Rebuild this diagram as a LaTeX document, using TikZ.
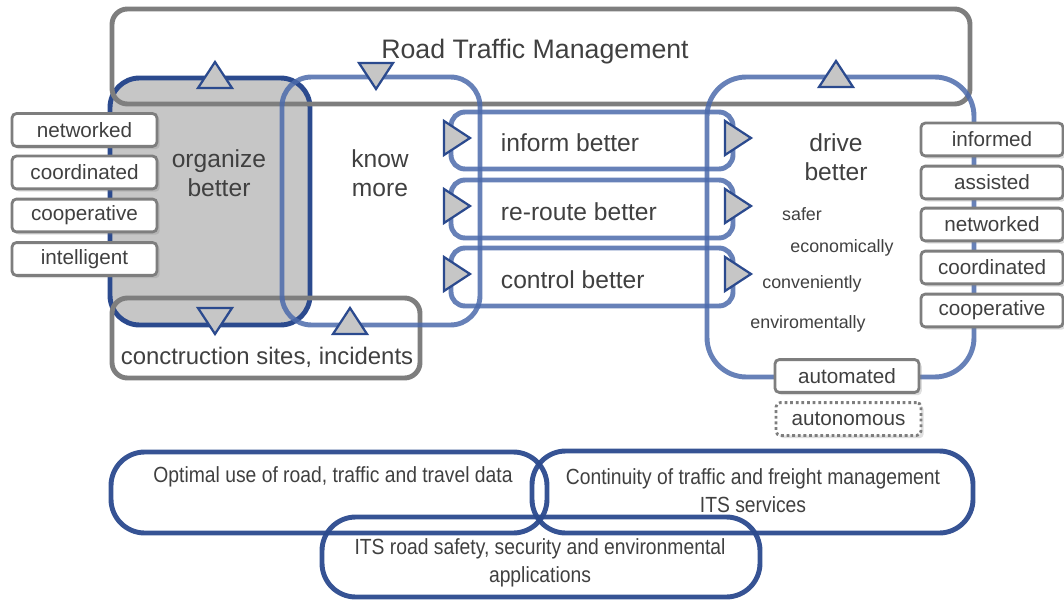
\documentclass[tikz,border=0pt]{standalone}
\usepackage{fontspec}
\setmainfont{Liberation Sans}
\newfontfamily\narrowfont[FakeStretch=0.88]{Liberation Sans}
\usetikzlibrary{shadows}
\definecolor{rtmgray}{HTML}{7E7E7E}
\definecolor{rtmfill}{HTML}{C6C6C6}
\definecolor{rtmtext}{HTML}{404040}
\definecolor{darkblue}{HTML}{2B4A8E}
\definecolor{paleblue}{HTML}{4C6BAC}

\begin{document}
\begin{tikzpicture}[x=0.025cm, y=-0.025cm, every node/.style={text=rtmtext},
    graybox/.style={draw=rtmgray, line width=3.5pt, rounded corners=11pt},
    orgbox/.style={draw=darkblue, fill=rtmfill, line width=3.5pt, rounded corners=21pt},
    loopbox/.style={draw=paleblue, draw opacity=0.85, line width=3.5pt, rounded corners=#1},
    aimbox/.style={draw=darkblue, draw opacity=0.95, line width=3.5pt, rounded corners=24pt},
    tag/.style={draw=rtmgray, fill=white, line width=2pt, rounded corners=3pt, inner sep=0pt,
      minimum height=0.82cm, drop shadow={opacity=0.25, shadow xshift=2pt, shadow yshift=-2pt},
      font=\fontsize{14.7}{16}\selectfont},
    big/.style={font=\fontsize{17.5}{21}\selectfont, align=center},
    small/.style={font=\fontsize{12.7}{15}\selectfont},
    aim/.style={font=\narrowfont\fontsize{15.6}{20}\selectfont, align=center},
    tri/.pic={\filldraw[draw=darkblue, fill=rtmfill, line width=1.6pt, line join=miter]
      (-17,13) -- (0,-13) -- (17,13) -- cycle;}]
  \useasboundingbox (0,0) rectangle (1064,603);

  \draw[orgbox] (110,78) rectangle (310,325);
  \draw[graybox] (112,9) rectangle (970,104);
  \draw[graybox] (112,298) rectangle (420,378);
  \draw[loopbox=21pt] (282,77) rectangle (480,325);
  \draw[loopbox=10pt] (451,112) rectangle (733,169);
  \draw[loopbox=10pt] (451,180) rectangle (733,238);
  \draw[loopbox=10pt] (451,248) rectangle (733,306);
  \draw[loopbox=28pt] (707,77) rectangle (974,377);

  \draw[aimbox] (111,452) rectangle (547,533);
  \draw[aimbox] (532,451) rectangle (973,533);
  \draw[aimbox] (322,517) rectangle (760,597);

  \node[tag, minimum width=3.62cm] (lnetworked) at (84.5,130) {networked};
  \node[tag, minimum width=3.62cm] (lcoordinated) at (84.5,172.5) {coordinated};
  \node[tag, minimum width=3.62cm] (lcooperative) at (84.5,215.5) {cooperative};
  \node[tag, minimum width=3.62cm] (lintelligent) at (84.5,259) {intelligent};

  \node[tag, minimum width=3.55cm] (rinformed) at (992,139.5) {informed};
  \node[tag, minimum width=3.55cm] (rassisted) at (992,182.5) {assisted};
  \node[tag, minimum width=3.55cm] (rnetworked) at (992,224.5) {networked};
  \node[tag, minimum width=3.55cm] (rcoordinated) at (992,267.5) {coordinated};
  \node[tag, minimum width=3.55cm] (rcooperative) at (992,310.5) {cooperative};

  \node[tag, minimum width=3.6cm] (automated) at (847,376) {automated};
  \node[tag, minimum width=3.62cm, dotted] (autonomous) at (848.5,419) {autonomous};

  \pic at (215,75) {tri};
  \pic[rotate=180] at (376,76) {tri};
  \pic[rotate=180] at (215,321) {tri};
  \pic at (350,321) {tri};
  \pic at (836,74) {tri};
  \pic[rotate=-90] at (457,138) {tri};
  \pic[rotate=-90] at (457,206) {tri};
  \pic[rotate=-90] at (457,274) {tri};
  \pic[rotate=-90] at (738,138) {tri};
  \pic[rotate=-90] at (738,206) {tri};
  \pic[rotate=-90] at (738,274) {tri};

  \node[font=\fontsize{19}{23}\selectfont] (rtm) at (535,52) {Road Traffic Management};
  \node[big] (organize) at (219,173) {organize\\better};
  \node[big] (know) at (380,173) {know\\more};
  \node[big, anchor=west] (inform) at (496,143) {inform better};
  \node[big, anchor=west] (reroute) at (496,212) {re-route better};
  \node[big, anchor=west] (control) at (496,280) {control better};
  \node[big] (drive) at (836,157) {drive\\better};
  \node[small] (safer) at (802,214) {safer};
  \node[small] (economically) at (842,248) {economically};
  \node[small] (conveniently) at (812,284) {conveniently};
  \node[small] (enviromentally) at (808,324) {enviromentally};
  \node[font=\fontsize{17}{20}\selectfont] (sites) at (267,357) {conctruction sites, incidents};

  \node[aim] (data) at (333,477) {Optimal use of road, traffic and travel data};
  \node[aim] (continuity) at (753,491) {Continuity of traffic and freight management\\ITS services};
  \node[aim] (safety) at (540,563) {ITS road safety, security and environmental\\applications};
\end{tikzpicture}
\end{document}
